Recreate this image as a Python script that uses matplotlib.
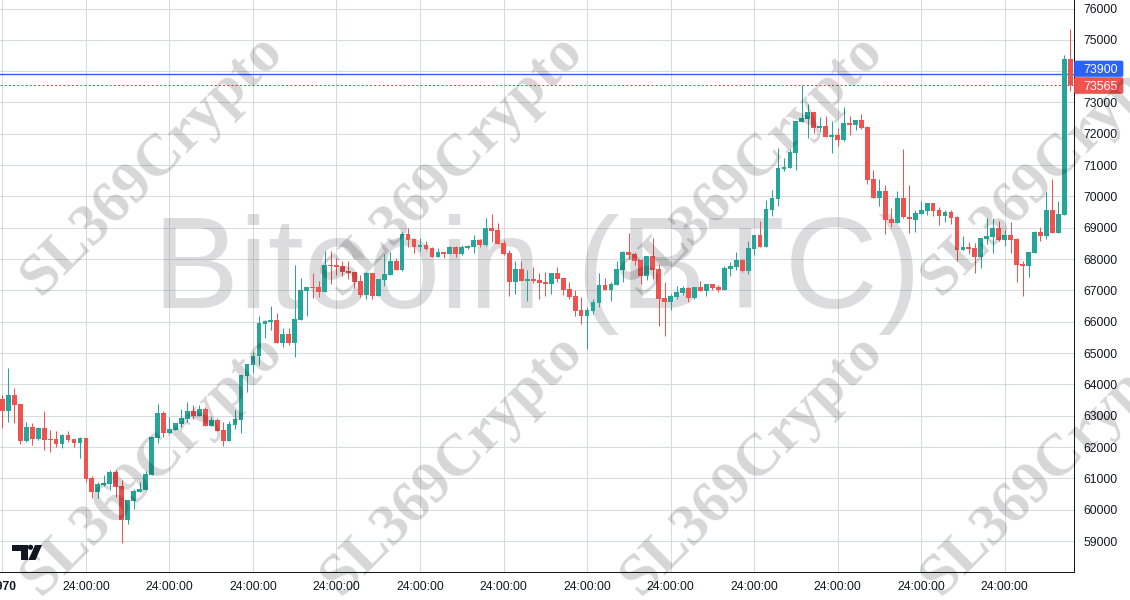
import matplotlib
matplotlib.use("Agg")
import matplotlib.pyplot as plt
from matplotlib.patches import Polygon, Circle, FancyBboxPatch

opens = [
63540,63167,63668,63380,62209,62645,62262,62613,62273,62273,
62113,62390,62262,62134,62294,61016,60569,60792,60824,61208,
60760,59674,60281,60558,60633,61112,62294,63093,62454,62560,
62741,62901,63157,62997,63220,62677,62869,62550,62198,62709,
62869,64275,64626,64892,65936,66000,66064,65329,65617,65329,
66064,66991,67118,67118,66959,67821,67821,67789,67630,67598,
67310,66863,67566,66831,67342,67502,67949,67662,68812,68652,
68396,68460,68364,68077,68237,68173,68396,68173,68364,68396,
68620,68460,69003,68940,68524,68205,67278,67693,67310,67374,
67342,67278,67214,67566,67406,67054,66831,66383,66192,66351,
66607,67182,67022,67182,67662,68237,68173,67981,67470,68109,
67693,66767,66639,66799,66927,67086,66767,67118,66991,67214,
67118,67022,67693,67757,67981,67630,68332,68779,68396,69578,
69929,70888,70920,71399,72390,72486,72709,72198,72262,71910,
71974,71814,72358,72294,72454,72230,70568,69961,70185,69290,
69163,69961,69354,69259,69451,69547,69802,69579,69387,69515,
69355,68300,68396,68364,68077,68652,68716,69003,68620,68780,
68652,67853,67789,68205,68876,68748,69579,68844,69419,74403]
closes = [
63167,63668,63359,62209,62645,62273,62613,62241,62241,62113,
62390,62230,62134,62294,60995,60569,60824,60856,61208,60729,
59674,60313,60601,60665,61144,62326,63093,62454,62581,62763,
62933,63157,62997,63220,62677,62869,62518,62198,62741,62901,
64307,64658,64914,65957,66021,66064,65329,65617,65329,66096,
67023,67118,67086,66959,67821,67789,67757,67598,67566,67278,
66863,67566,66831,67374,67534,67949,67662,68812,68620,68396,
68460,68332,68077,68237,68173,68396,68173,68396,68428,68620,
68460,69003,68908,68492,68173,67278,67693,67310,67374,67310,
67246,67214,67566,67374,67023,66799,66351,66192,66383,66639,
67182,67022,67214,67693,68237,68141,67949,67470,68109,67662,
66735,66639,66831,66959,67086,66767,67118,66991,67214,67086,
67022,67725,67789,67981,67630,68364,68779,68396,69610,69961,
70920,70952,71431,72422,72517,72709,72198,72262,71910,71974,
71814,72358,72294,72454,72198,70536,69961,70185,69259,69163,
69961,69334,69270,69483,69579,69802,69547,69387,69515,69323,
68300,68396,68332,68077,68684,68748,69003,68620,68780,68620,
67821,67789,68237,68876,68748,69579,68844,69451,74403,73565]
highs = [
63668,64530,63891,63380,62805,62773,62645,63167,62550,62518,
62422,62518,62262,62337,62294,61080,60899,61112,61261,61261,
60952,60313,60665,60888,61240,62326,63380,63157,62965,62763,
63220,63444,63348,63348,63284,62965,62933,62805,62837,63189,
64307,64658,65041,66181,66053,66511,66288,65808,65808,67821,
67406,67118,67566,67310,68269,68269,68045,67949,67949,67598,
67502,67598,67566,67374,68173,68237,68045,68876,69003,68684,
68684,68588,68396,68364,68237,68428,68428,68460,68460,68780,
68652,69323,69451,69163,68620,68301,67949,67949,67662,67757,
67566,67598,67566,67757,67406,67278,67022,66799,66479,66735,
67566,67406,67278,67949,68269,68844,68237,67981,68109,68684,
67853,67278,66895,67150,67150,67118,67118,67310,67214,67214,
67182,67789,67917,68237,68013,68588,68779,69227,69897,70217,
71559,71239,71527,72422,73572,72965,72709,72549,72581,72422,
72198,72869,72581,72454,72645,72262,70856,70568,70377,69642,
70185,71527,70377,69578,69866,69802,69802,69674,69579,69579,
69387,68748,68556,68524,68684,69323,69323,69227,68940,69195,
68684,67949,68237,68908,69035,70154,70569,69866,74531,75361]
lows = [
62624,62816,62784,62113,62177,62070,62219,61910,61857,62006,
61975,62177,62006,61655,60899,60377,60377,60760,60633,60409,
58950,59546,60026,60558,60633,61112,62134,62326,62454,62560,
62645,62805,62901,62997,62677,62677,62518,62038,62198,62581,
62454,63764,64371,64626,65478,65744,65329,65201,65265,64882,
66064,66192,66767,66799,66959,67214,67502,67470,67374,67086,
66799,66735,66735,66831,67150,67502,67662,67630,68396,68205,
68269,68300,68077,68077,68045,68173,68077,68141,68332,68205,
68396,68428,68556,68492,68141,66831,66895,67310,66671,67246,
66735,66831,66895,67278,66863,66735,66192,65936,65138,66256,
66479,67022,66671,67182,67278,68013,67821,67214,67342,67374,
65872,65553,66383,66735,66863,66639,66735,66991,66831,67022,
66959,67022,67470,67662,67598,67534,68141,68396,68396,69386,
69706,70824,70920,70856,72390,71878,72038,72070,71910,71399,
71623,71783,71974,72134,72166,70409,69961,69706,68811,69035,
69163,69322,68843,68875,69451,69419,69387,69099,69195,69131,
67949,68300,68173,67566,67726,68492,68205,68588,68428,68205,
67278,66831,67438,68205,68588,68652,68844,68844,69419,73380]

price_ticks = list(range(59000, 76001, 1000))
hidden_price_label = 74000
time_tick_step = 14
first_time_label = "1970"
time_label = "24:00:00"
bid_price = 73900
last_price = 73565
main_watermark = "Bitcoin (BTC)"
tile_watermark = "SL369Crypto"

GREEN, RED, BLUE = "#26a69a", "#ef5350", "#2962ff"
INK, GRID = "#131722", "#d6dcde"
W, H = 1130, 600
PX = 0.72

plt.rcParams["font.family"] = ["Liberation Sans", "DejaVu Sans"]
fig = plt.figure(figsize=(W / 100, H / 100), dpi=100, facecolor="white")
ax = fig.add_axes([0, 1 - 572 / H, 1074 / W, 572 / H])
ax.set_xlim(-0.40, 179.62)
ax.set_ylim(58012, 76272)

idx = list(range(len(opens)))
ax.set_axisbelow(True)
ax.grid(True, color=GRID, lw=PX)
ax.set_xticks(idx[::time_tick_step])
ax.set_xticklabels([first_time_label] + [time_label] * (len(idx[::time_tick_step]) - 1))
ax.get_xticklabels()[0].set_fontweight("bold")
ax.yaxis.tick_right()
ax.set_yticks(price_ticks)
ax.set_yticklabels(["" if p == hidden_price_label else str(p) for p in price_ticks])
ax.tick_params(axis="x", length=0, pad=6.2, labelsize=8.7, labelcolor=INK)
ax.tick_params(axis="y", length=0, pad=6.9, labelsize=8.7, labelcolor=INK)
for s in ("left", "top"):
    ax.spines[s].set_visible(False)
for s in ("right", "bottom"):
    ax.spines[s].set_color(INK)
    ax.spines[s].set_linewidth(PX)

ax.text(0.5, (572 - 308) / 572, main_watermark, transform=ax.transAxes, ha="center", va="baseline",
        fontsize=93, color=(80 / 255, 83 / 255, 94 / 255, 0.2), zorder=1)

ax.axhline(bid_price, color=BLUE, lw=1.0, zorder=1.5, snap=True)
ax.axhline(last_price, color="#e0403d", lw=PX, ls=(0, (2, 2.2)), zorder=1.5)

colors = [GREEN if c >= o else RED for o, c in zip(opens, closes)]
ax.vlines(idx, lows, highs, colors=colors, lw=PX, zorder=2)
ax.bar(idx, [abs(c - o) for o, c in zip(opens, closes)],
       bottom=[min(o, c) for o, c in zip(opens, closes)],
       width=0.8, color=colors, lw=0, zorder=3)

# pixel-space overlay for price labels, logo and tiled watermark
ov = fig.add_axes([0, 0, 1, 1], zorder=10)
ov.set_xlim(0, W)
ov.set_ylim(H, 0)
ov.axis("off")
ov.patch.set_alpha(0)

for y0, y1, col, val in ((60.5, 77, BLUE, bid_price), (77, 94, RED, last_price)):
    ov.add_patch(FancyBboxPatch((1075, y0 + 1), 47.5, y1 - y0 - 2,
                                boxstyle="round,pad=0,rounding_size=1", fc=col, ec=col, lw=1.2))
    ov.text(1100.5, (y0 + y1) / 2 + 1.0, str(val), color="white", fontsize=8.9, ha="center", va="center")

ov.add_patch(Polygon([(12, 545), (28, 545), (28, 560), (21, 560), (21, 551), (12, 551)], fc=INK, ec="none"))
ov.add_patch(Circle((30.5, 547.3), 2.6, fc=INK, ec="none"))
ov.add_patch(Polygon([(35, 545), (42, 545), (35.5, 560), (28.5, 560)], fc=INK, ec="none"))

for cx in (152.5, 452.5, 752.5, 1052.5):
    for cy in (165, 465):
        ov.text(cx, cy, tile_watermark, rotation=45, rotation_mode="anchor",
                ha="center", va="center", fontsize=43, fontweight="bold",
                family=["Liberation Serif", "DejaVu Serif"], color=(0, 0, 0, 0.16))

fig.savefig("out.png", dpi=100)
